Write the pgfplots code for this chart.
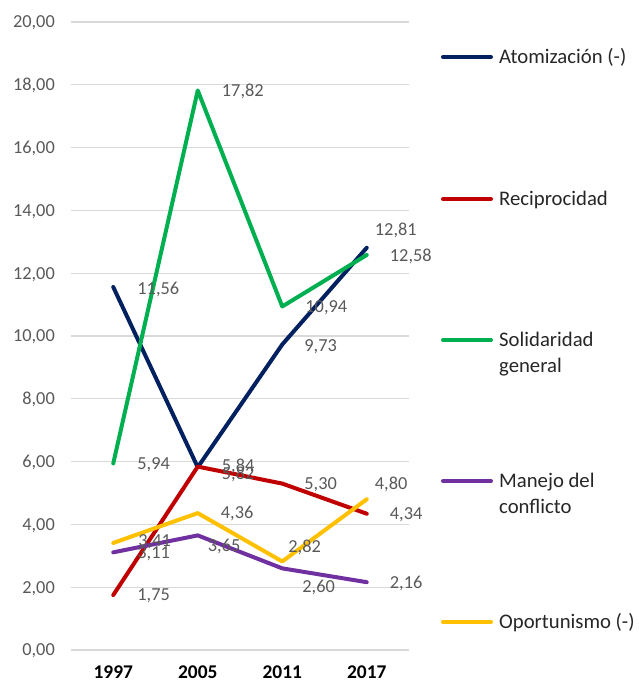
\documentclass[border=0pt]{standalone}
\usepackage{pgfplots}
\pgfplotsset{compat=1.18}
\usepackage{pgfplotstable}
\usepackage{fontspec}
\setmainfont{Carlito}
\definecolor{cnavy}{HTML}{002060}
\definecolor{cred}{HTML}{C00000}
\definecolor{cgreen}{HTML}{00B050}
\definecolor{cpurple}{HTML}{7030A0}
\definecolor{cyellow}{HTML}{FFC000}
\definecolor{clabel}{HTML}{595959}
\definecolor{cgrid}{HTML}{D9D9D9}
\definecolor{clegend}{HTML}{262626}

\pgfplotstableread{
x y dx dy
0 11.56 24 -2
1 5.82 24 -6
2 9.73 22 -1
3 12.81 8 18
}\atom
\pgfplotstableread{
x y dx dy
0 1.75 24 0
1 5.84 24 1.5
2 5.30 22 0
3 4.34 23 0
}\recip
\pgfplotstableread{
x y dx dy
0 5.94 24 0
1 17.82 24 0
2 10.94 23 0
3 12.58 23 -1
}\solid
\pgfplotstableread{
x y dx dy
0 3.11 24 0
1 3.65 10 -10
2 2.60 20 -18
3 2.16 23 0
}\manejo
\pgfplotstableread{
x y dx dy
0 3.41 25 2
1 4.36 23 0
2 2.82 6 15
3 4.80 8 16
}\oport

\pgfplotsset{
  serie/.style={line width=4bp, line join=round, line cap=round, mark=none},
  etiq/.style={draw=none, mark=none, forget plot,
    point meta=explicit,
    nodes near coords={\pgfmathprintnumber[fixed,fixed zerofill,precision=2,use comma,assume math mode=true]{\pgfplotspointmeta}},
    visualization depends on={\thisrow{dx}\as\dx},
    visualization depends on={\thisrow{dy}\as\dy},
    every node near coord/.append style={anchor=base west, inner sep=0pt,
      xshift=\dx bp, yshift=\dy bp-5.9bp,
      font=\fontsize{18.4}{22}\selectfont, text=clabel}},
}

\begin{document}
\begin{tikzpicture}
\path[use as bounding box] (0,0) rectangle (639bp,682bp);
\begin{axis}[
  at={(71bp,32bp)}, anchor=south west,
  scale only axis, width=338bp, height=628bp,
  xmin=-0.5, xmax=3.5, ymin=0, ymax=20,
  xtick={0,1,2,3}, xticklabels={1997,2005,2011,2017},
  ytick={0,2,...,20},
  ymajorgrids, grid style={color=cgrid, line width=1.2bp},
  axis line style={draw=none},
  major tick length=0pt,
  clip=false,
  yticklabel style={/pgf/number format/fixed, /pgf/number format/fixed zerofill,
    /pgf/number format/precision=2, /pgf/number format/use comma,
    /pgf/number format/assume math mode=true,
    font=\fontsize{18.4}{22}\selectfont, text=clabel,
    anchor=base east, inner sep=0pt, xshift=-16bp, yshift=-5.9bp},
  xticklabel style={font=\bfseries\fontsize{19.5}{22}\selectfont, text=black,
    anchor=base, inner sep=0pt, yshift=-29bp},
]
\addplot[serie, cnavy] table[x=x,y=y]{\atom};
\addplot[serie, cred] table[x=x,y=y]{\recip};
\addplot[serie, cgreen] table[x=x,y=y]{\solid};
\addplot[serie, cpurple] table[x=x,y=y]{\manejo};
\addplot[serie, cyellow] table[x=x,y=y]{\oport};

\addplot[etiq] table[x=x,y=y,meta=y]{\atom};
\addplot[etiq] table[x=x,y=y,meta=y]{\recip};
\addplot[etiq] table[x=x,y=y,meta=y]{\solid};
\addplot[etiq] table[x=x,y=y,meta=y]{\manejo};
\addplot[etiq] table[x=x,y=y,meta=y]{\oport};
\end{axis}

% legend
\begin{scope}[every node/.style={anchor=base west, inner sep=0pt, text=clegend,
    font=\fontsize{20.8}{25}\selectfont}]
\draw[cnavy, line width=4bp, line cap=round] (443bp,625bp) -- (491bp,625bp);
\node at (499bp,{625bp-6.7bp}) {Atomización (-)};
\draw[cred, line width=4bp, line cap=round] (443bp,483bp) -- (491bp,483bp);
\node at (499bp,{483bp-6.7bp}) {Reciprocidad};
\draw[cgreen, line width=4bp, line cap=round] (443bp,342bp) -- (491bp,342bp);
\node at (499bp,{342bp-6.7bp}) {Solidaridad};
\node at (499bp,{342bp-32.7bp}) {general};
\draw[cpurple, line width=4bp, line cap=round] (443bp,201bp) -- (491bp,201bp);
\node at (499bp,{201bp-6.7bp}) {Manejo del};
\node at (499bp,{201bp-32.7bp}) {conflicto};
\draw[cyellow, line width=4bp, line cap=round] (443bp,60bp) -- (491bp,60bp);
\node at (499bp,{60bp-6.7bp}) {Oportunismo (-)};
\end{scope}
\end{tikzpicture}
\end{document}
